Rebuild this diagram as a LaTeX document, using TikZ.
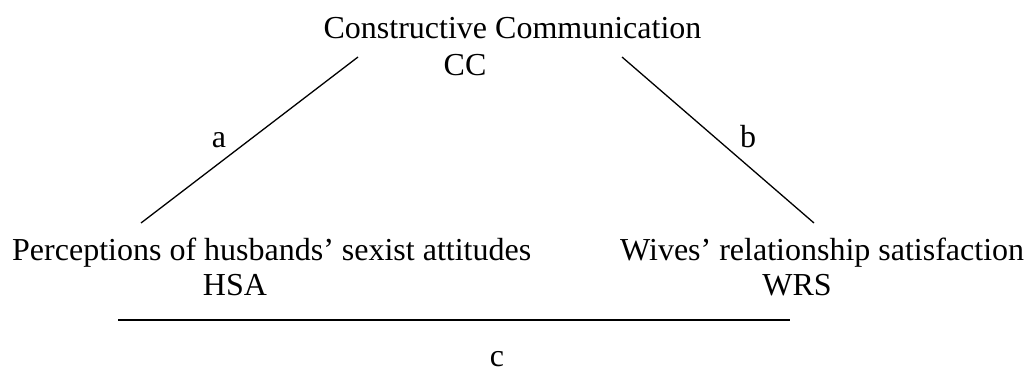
\documentclass[tikz,border=0pt]{standalone}
\usepackage{fontspec}
\setmainfont{Liberation Serif}
\usepackage{tikz}
\usetikzlibrary{positioning}
\definecolor{mydark}{RGB}{0,0,0}
\tikzset{
  lbl/.style={font=\fontsize{32}{37}\selectfont, inner sep=0pt, anchor=base, color=mydark},
  link/.style={line width=1.3pt, color=mydark}
}

\begin{document}
\begin{tikzpicture}[x=1pt, y=-1pt]
  \useasboundingbox (0,0) rectangle (1027,369);
  % Mediator
  \node[lbl] (cctext) at (512.5,39) {Constructive Communication};
  \node[lbl] (cc) at (465,75) {CC};
  % Predictor and outcome
  \node[lbl, anchor=base west] (hsatext) at (12,260) {Perceptions of husbands’ sexist attitudes};
  \node[lbl] (hsa) at (235,295) {HSA};
  \node[lbl, anchor=base west] (wrstext) at (620,260) {Wives’ relationship satisfaction};
  \node[lbl] (wrs) at (797,295) {WRS};
  % Paths
  \coordinate (a1) at (141,223);
  \coordinate (a2) at (358,57);
  \coordinate (b1) at (622,57);
  \coordinate (b2) at (814,223);
  \coordinate (c1) at (118,320);
  \coordinate (c2) at (790,320);
  \draw[link] (a1) -- (a2);
  \draw[link] (b1) -- (b2);
  \draw[link] (c1) -- (c2);
  \node[lbl] (alabel) at (219,147) {a};
  \node[lbl] (blabel) at (748,147) {b};
  \node[lbl] (clabel) at (497,366) {c};
\end{tikzpicture}
\end{document}
